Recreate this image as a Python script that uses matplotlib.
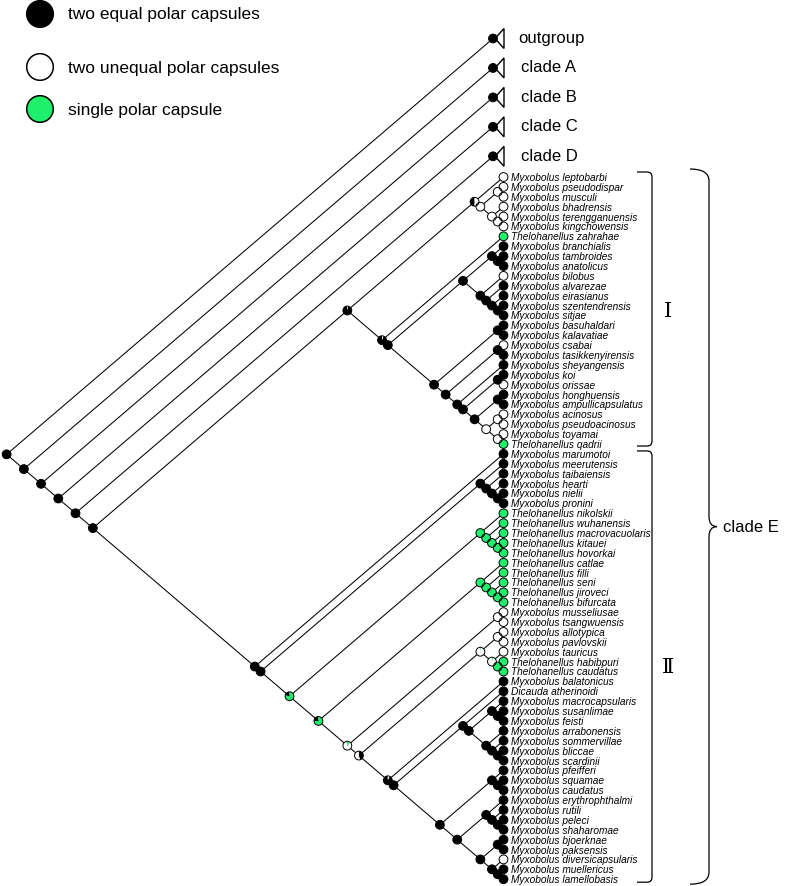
import re
import matplotlib
matplotlib.use("Agg")
import matplotlib.pyplot as plt
from matplotlib.patches import Wedge, Circle, Polygon, PathPatch
from matplotlib.path import Path

plt.rcParams['font.family'] = ['Liberation Sans', 'DejaVu Sans']

# terminal taxa, top to bottom
taxa = [
    "Myxobolus leptobarbi", "Myxobolus pseudodispar", "Myxobolus musculi", "Myxobolus bhadrensis",
    "Myxobolus terengganuensis", "Myxobolus kingchowensis", "Thelohanellus zahrahae", "Myxobolus branchialis",
    "Myxobolus tambroides", "Myxobolus anatolicus", "Myxobolus bilobus", "Myxobolus alvarezae",
    "Myxobolus eirasianus", "Myxobolus szentendrensis", "Myxobolus sitjae", "Myxobolus basuhaldari",
    "Myxobolus kalavatiae", "Myxobolus csabai", "Myxobolus tasikkenyirensis", "Myxobolus sheyangensis",
    "Myxobolus koi", "Myxobolus orissae", "Myxobolus honghuensis", "Myxobolus ampullicapsulatus",
    "Myxobolus acinosus", "Myxobolus pseudoacinosus", "Myxobolus toyamai", "Thelohanellus qadrii",
    "Myxobolus marumotoi", "Myxobolus meerutensis", "Myxobolus taibaiensis", "Myxobolus hearti",
    "Myxobolus nielii", "Myxobolus pronini", "Thelohanellus nikolskii", "Thelohanellus wuhanensis",
    "Thelohanellus macrovacuolaris", "Thelohanellus kitauei", "Thelohanellus hovorkai", "Thelohanellus catlae",
    "Thelohanellus filli", "Thelohanellus seni", "Thelohanellus jiroveci", "Thelohanellus bifurcata",
    "Myxobolus musseliusae", "Myxobolus tsangwuensis", "Myxobolus allotypica", "Myxobolus pavlovskii",
    "Myxobolus tauricus", "Thelohanellus habibpuri", "Thelohanellus caudatus", "Myxobolus balatonicus",
    "Dicauda atherinoidi", "Myxobolus macrocapsularis", "Myxobolus susanlimae", "Myxobolus feisti",
    "Myxobolus arrabonensis", "Myxobolus sommervillae", "Myxobolus bliccae", "Myxobolus scardinii",
    "Myxobolus pfeifferi", "Myxobolus squamae", "Myxobolus caudatus", "Myxobolus erythrophthalmi",
    "Myxobolus rutili", "Myxobolus peleci", "Myxobolus shaharomae", "Myxobolus bjoerknae",
    "Myxobolus paksensis", "Myxobolus diversicapsularis", "Myxobolus muellericus", "Myxobolus lamellobasis",
]
# b = two equal, w = two unequal, g = single polar capsule
taxon_state = list("wwwwwwgbbbwbbbbbbwbbbwbbwwwg"
                   "bbbbbb" "gggggggggg" "wwwwwgg"
                   "bbbbbbbbbbbbbbbbbbwbb")

collapsed = ["outgroup", "clade A", "clade B", "clade C", "clade D"]

# topology: tN = taxa[N-1], cN = collapsed[N]; label after ')' = node state
clade_I = ("((t1,((t2,t3)w,(t4,(t5,t6)w)w)w)p1,"
           "(t7,(((t8,(t9,t10)b)b,(t11,(t12,(t13,(t14,t15)b)b)b)b)b,"
           "((t16,t17)b,((t18,t19)b,(t20,((t21,t22)b,((t23,t24)b,((t25,t26)w,(t27,t28)w)w)b)b)b)b)b)b)p2)p3")
clade_II = ("(t29,((t30,(t31,(t32,(t33,t34)b)b)b)b,"
            "((t35,(t36,(t37,(t38,t39)g)g)g)g,"
            "((t40,(t41,(t42,(t43,t44)g)g)g)g,"
            "((t45,t46)w,(((t47,t48)w,(t49,(t50,t51)g)p7)p6,"
            "(t52,((t53,((t54,(t55,t56)b)b,(t57,(t58,(t59,t60)b)b)b)b)b,"
            "((t61,(t62,t63)b)b,((t64,(t65,(t66,t67)b)b)b,((t68,t69)b,(t70,(t71,t72)b)b)b)b)b)b)p8)p9)p10)p4)p5)b)b")
tree_str = "(c0,(c1,(c2,(c3,(c4,(" + clade_I + "," + clade_II + ")b)b)b)b)b)b"

# mixed reconstructions (state, fraction), drawn counter-clockwise from 12 o'clock
mixed = {
    "p1": [("b", 0.5), ("w", 0.5)],
    "p2": [("b", 0.95), ("w", 0.05)],
    "p3": [("b", 0.97), ("w", 0.03)],
    "p4": [("b", 0.25), ("g", 0.75)],
    "p5": [("b", 0.22), ("g", 0.78)],
    "p6": [("w", 0.97), ("g", 0.03)],
    "p7": [("w", 0.95), ("g", 0.05)],
    "p8": [("b", 0.93), ("w", 0.07)],
    "p9": [("w", 0.55), ("b", 0.45)],
    "p10": [("b", 0.04), ("w", 0.86), ("g", 0.10)],
}

legend_labels = ["two equal polar capsules", "two unequal polar capsules", "single polar capsule"]
legend_states = ["b", "w", "g"]

colors = {"b": "#000000", "w": "#ffffff", "g": "#1ef06c"}

# layout parameters (pixel space)
W, H = 789, 887
tip_x, tip_y0, tip_dy = 503.5, 178.0, 9.89
col_x, col_y0, col_dy = 493.0, 39.5, 29.45
slope = 0.855
r_node = 4.4


def parse(s, i=0):
    if s[i] == "(":
        kids = []
        i += 1
        while True:
            k, i = parse(s, i)
            kids.append(k)
            if s[i] == ",":
                i += 1
                continue
            i += 1
            break
        m = re.match(r"[A-Za-z0-9_]*", s[i:])
        return {"kids": kids, "label": m.group(0)}, i + len(m.group(0))
    m = re.match(r"[A-Za-z0-9_]+", s[i:])
    return {"kids": [], "name": m.group(0)}, i + len(m.group(0))


root, _ = parse(tree_str)


def layout(n):
    if not n["kids"]:
        idx = int(n["name"][1:])
        if n["name"][0] == "t":
            n["x"], n["y"] = tip_x, tip_y0 + (idx - 1) * tip_dy
            n["state"] = taxon_state[idx - 1]
        else:
            n["x"], n["y"] = col_x, col_y0 + idx * col_dy
            n["state"] = "b"
        n["first"] = n["last"] = (n["x"], n["y"])
        return
    for k in n["kids"]:
        layout(k)
    (x1, y1), (x2, y2) = n["kids"][0]["first"], n["kids"][-1]["last"]
    x = (x1 + x2) / 2 - (y2 - y1) / (2 * slope)
    n["x"], n["y"] = x, y1 + slope * (x1 - x)
    n["first"], n["last"] = (x1, y1), (x2, y2)
    n["state"] = n["label"]


layout(root)

fig = plt.figure(figsize=(W / 100, H / 100), dpi=100)
ax = fig.add_axes([0, 0, 1, 1])
ax.set_xlim(0, W)
ax.set_ylim(H, 0)
ax.axis("off")


def pie(x, y, r, state, lw=0.7):
    parts = mixed.get(state, [(state, 1.0)])
    cum = 0.0
    for st, f in parts:
        if f >= 0.999:
            ax.add_patch(Circle((x, y), r, facecolor=colors[st], edgecolor="none", zorder=4))
        else:
            ax.add_patch(Wedge((x, y), r, -90 - 360 * (cum + f), -90 - 360 * cum,
                               facecolor=colors[st], edgecolor="none", zorder=4))
        cum += f
    ax.add_patch(Circle((x, y), r, facecolor="none", edgecolor="black", lw=lw, zorder=5))


def draw(n):
    for k in n["kids"]:
        ax.plot([n["x"], k["x"]], [n["y"], k["y"]], color="black", lw=0.75, zorder=2,
                solid_capstyle="butt")
        draw(k)
    pie(n["x"], n["y"], r_node, n["state"])
    if not n["kids"]:
        if n["name"][0] == "t":
            idx = int(n["name"][1:])
            ax.text(n["x"] + 7.5, n["y"], taxa[idx - 1], fontsize=7.3, style="italic",
                    va="center", ha="left")
        else:
            idx = int(n["name"][1:])
            x, y = n["x"], n["y"]
            ax.add_patch(Polygon([(x + 2, y), (x + 11, y - 10), (x + 11, y + 10)],
                                 closed=True, facecolor="white", edgecolor="black", lw=1.0, zorder=3))
            ax.text(x + (25 if idx == 0 else 28), y - 1, collapsed[idx], fontsize=12,
                    va="center", ha="left")


draw(root)

# legend
for i, (lab, st) in enumerate(zip(legend_labels, legend_states)):
    ly = [15, 68, 110][i]
    ax.add_patch(Circle((40, ly), 13.3, facecolor=colors[st], edgecolor="black", lw=1.1, zorder=5))
    ax.text(68, ly, lab, fontsize=12.5, va="center", ha="left")


# clade brackets
def bracket(y_top, y_bot, x0, x1):
    c = 5
    verts = [(x0, y_top), (x1 - c, y_top), (x1, y_top), (x1, y_top + c),
             (x1, y_bot - c), (x1, y_bot), (x1 - c, y_bot), (x0, y_bot)]
    codes = [Path.MOVETO, Path.LINETO, Path.CURVE3, Path.CURVE3,
             Path.LINETO, Path.CURVE3, Path.CURVE3, Path.LINETO]
    ax.add_patch(PathPatch(Path(verts, codes), facecolor="none", edgecolor="black", lw=0.9))


rows = [tip_y0 + i * tip_dy for i in range(len(taxa))]
bracket(rows[0] - 5, rows[27] + 2, 637, 652)
bracket(rows[28] - 3, rows[-1] + 3, 637, 652)
ax.text(668, (rows[0] + rows[27]) / 2, "Ⅰ", fontsize=15, va="center", ha="center",
        family=["DejaVu Serif"], fontweight="light")
ax.text(668, (rows[28] + rows[-1]) / 2, "Ⅱ", fontsize=15, va="center", ha="center",
        family=["DejaVu Serif"], fontweight="light")

# curly brace for clade E
yt, yb = rows[0] - 8, rows[-1] + 5
ym = (yt + yb) / 2
xa, xb, xc = 690, 709, 717
verts = [(xa, yt), (xb, yt), (xb, yt + 12),
         (xb, ym - 10), (xb, ym), (xc, ym),
         (xb, ym), (xb, ym + 10),
         (xb, yb - 12), (xb, yb), (xa, yb)]
codes = [Path.MOVETO, Path.CURVE3, Path.CURVE3,
         Path.LINETO, Path.CURVE3, Path.CURVE3,
         Path.CURVE3, Path.CURVE3,
         Path.LINETO, Path.CURVE3, Path.CURVE3]
ax.add_patch(PathPatch(Path(verts, codes), facecolor="none", edgecolor="black", lw=0.9))
ax.text(723, ym, "clade E", fontsize=12, va="center", ha="left")

fig.savefig("out.png", dpi=100)
